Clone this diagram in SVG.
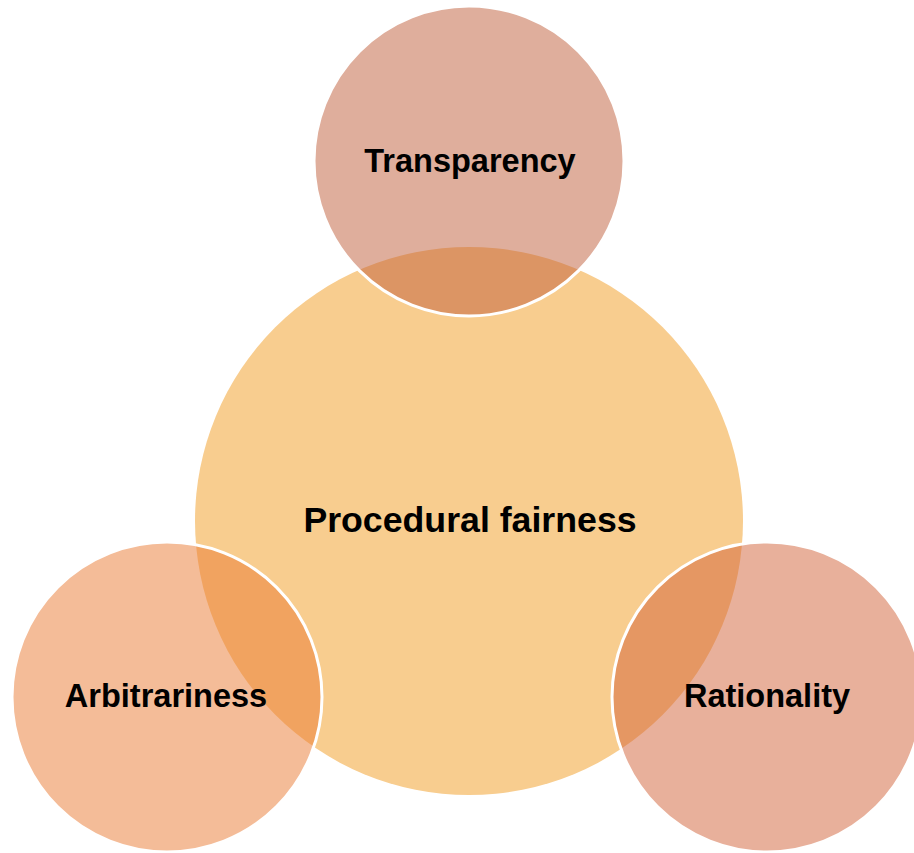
<svg xmlns="http://www.w3.org/2000/svg" width="914" height="853" viewBox="0 0 914 853">
<style>
.sat{stroke:#fff;stroke-width:3;fill-opacity:0.5}
text{font-family:"Liberation Sans",Arial,sans-serif;font-weight:bold;fill:#000;text-anchor:middle}
.t1{font-size:35.7px}
.t2{font-size:32.5px}
</style>
<rect width="914" height="853" fill="#fff"/>
<g id="procedural-fairness">
<circle cx="469" cy="521" r="274" fill="#F8CD8F"/>
<text class="t1" x="470" y="532">Procedural fairness</text>
</g>
<g id="transparency">
<circle class="sat" cx="469" cy="161" r="155" fill="#BF5D39"/>
<text class="t2" x="470" y="172">Transparency</text>
</g>
<g id="arbitrariness">
<circle class="sat" cx="167" cy="697" r="155" fill="#E97931"/>
<text class="t2" x="166" y="707">Arbitrariness</text>
</g>
<g id="rationality">
<circle class="sat" cx="767" cy="697" r="155" fill="#D16137"/>
<text class="t2" x="767" y="707">Rationality</text>
</g>
<g id="connectors"/>
</svg>
